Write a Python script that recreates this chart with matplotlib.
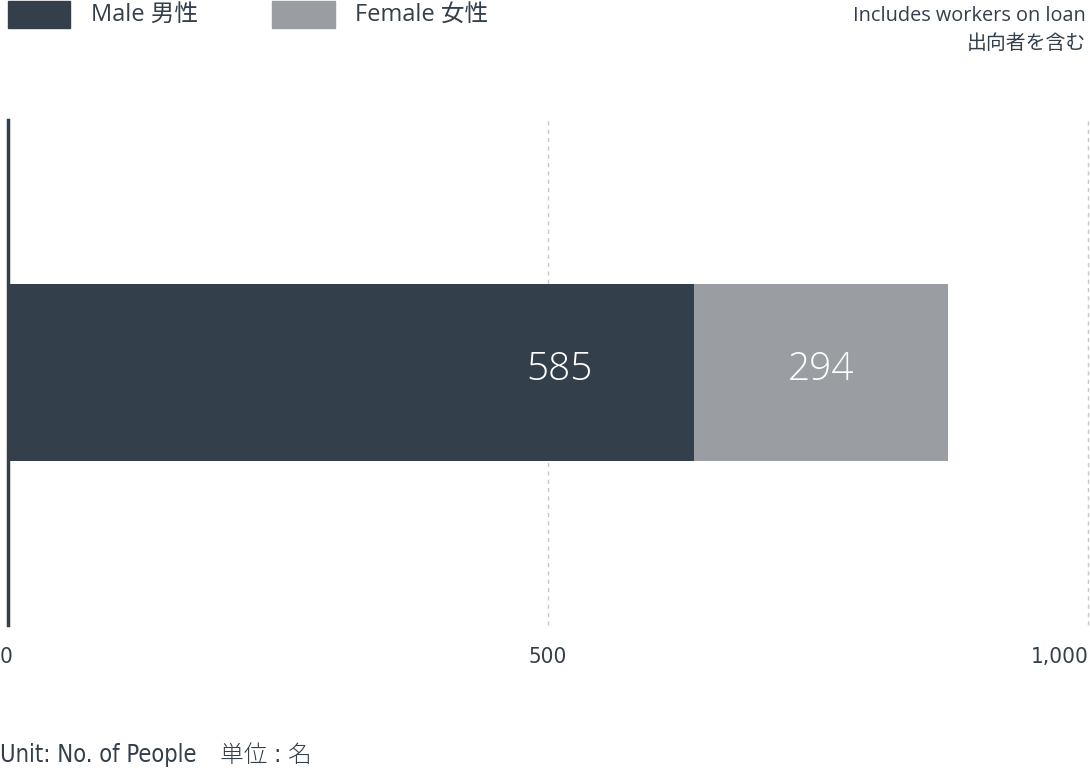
import matplotlib
matplotlib.use("Agg")
import matplotlib.pyplot as plt
from matplotlib.patches import Rectangle

# ---- data ----
categories = ["Male 男性", "Female 女性"]
bar_lengths = [635, 235]          # visual bar lengths
value_labels = ["585", "294"]     # printed values
colors = ["#333f4a", "#9a9ea2"]
tick_values = [0, 500, 1000]
tick_labels = ["0", "500", "1,000"]
note_lines = ["Includes workers on loan", "出向者を含む"]
unit_text = "Unit: No. of People　単位 : 名"

W, H = 1090, 773
fig = plt.figure(figsize=(W / 100, H / 100), dpi=100)
fig.patch.set_facecolor("white")

FAM = ["Open Sans", "Noto Sans CJK JP", "DejaVu Sans"]
TXT = "#333f4a"

# axes area: x 8..1088, y 120..625
ax = fig.add_axes([8 / W, (H - 625) / H, 1080 / W, 505 / H])
ax.set_xlim(0, 1000)
ax.set_ylim(0, 1)
ax.axis("off")

for tv in tick_values[1:]:
    ax.axvline(tv, color="#c8c8c8", lw=1.0, ls=(0, (3, 3)), zorder=0, clip_on=False)
ax.axvline(0, color=TXT, lw=2.5, zorder=3, clip_on=False)

bar_h = 177 / 505
left = 0
for L, c in zip(bar_lengths, colors):
    ax.barh(0.5, L, left=left, height=bar_h, color=c, zorder=2)
    left += L

# value labels
male_label_x = 511
fem_label_x = bar_lengths[0] + bar_lengths[1] / 2
for xv, t in zip([male_label_x, fem_label_x], value_labels):
    ax.text(xv, 0.505, t, ha="center", va="center", color="white",
            fontsize=28, family=FAM, fontweight="light", zorder=4)

# tick labels
for tv, tl, ha in zip(tick_values, tick_labels, ["left", "center", "right"]):
    xf = (8 + tv * 1.08) / W
    if ha == "left":
        xf = 0 / W
    if ha == "right":
        xf = 1089 / W
    fig.text(xf, 1 - 657 / H, tl, ha=ha, va="center", color=TXT,
             fontsize=16, family=["DejaVu Sans", "Noto Sans CJK JP"], stretch="condensed",
             fontweight="light")

# legend
swatches = [(8, 1, 62, 27), (272, 1, 63, 27)]
text_x = [91, 355]
for (sx, sy, sw, sh), c, lab, tx in zip(swatches, colors, categories, text_x):
    fig.patches.append(Rectangle((sx / W, 1 - (sy + sh) / H), sw / W, sh / H,
                                 transform=fig.transFigure, color=c, figure=fig))
    fig.text(tx / W, 1 - 15 / H, lab, ha="left", va="center", color=TXT,
             fontsize=17, family=FAM)

# note
fig.text(1086 / W, 1 - 16 / H, note_lines[0], ha="right", va="center", color=TXT,
         fontsize=14.3, family=FAM)
fig.text(1086 / W, 1 - 44 / H, note_lines[1], ha="right", va="center", color=TXT,
         fontsize=14.3, family=FAM)

# unit
fig.text(0, 1 - 755 / H, unit_text, ha="left", va="center", color=TXT,
         fontsize=17, family=["DejaVu Sans", "Noto Sans CJK JP"], stretch="condensed",
         fontweight="light")

fig.savefig("out.png", dpi=100, facecolor="white")
